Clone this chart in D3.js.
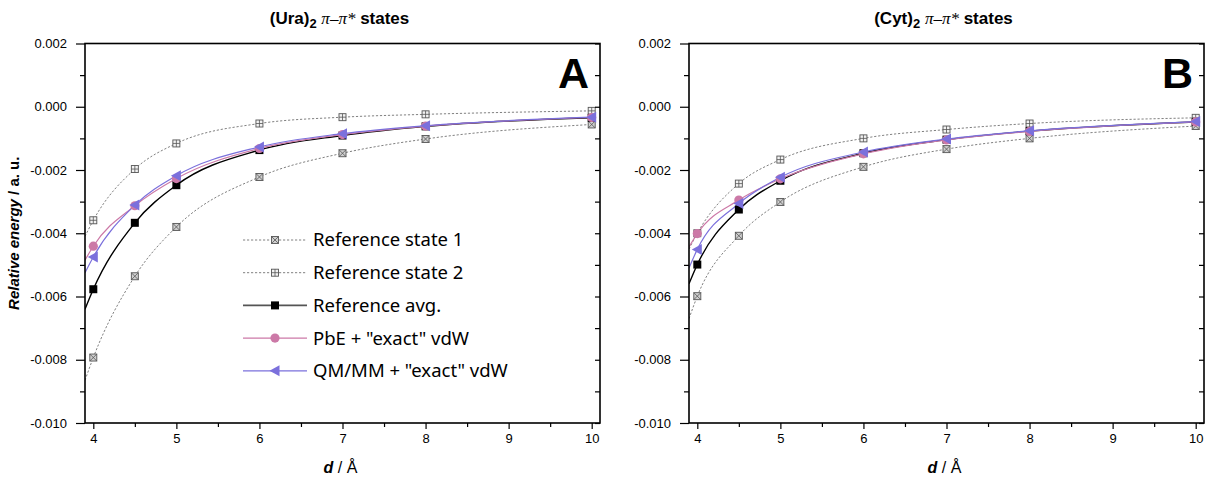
<!DOCTYPE html>
<html>
<head>
<meta charset="utf-8">
<script src="https://cdn.jsdelivr.net/npm/d3@7"></script>
<style>
  html, body { margin: 0; padding: 0; background: #fff; }
  svg { display: block; }
  .axis text { font-family: "Liberation Sans", Arial, sans-serif; font-size: 13px; fill: #000; }
  .axis path, .axis line { stroke: #000; }
</style>
</head>
<body>
<svg id="chart" width="1208" height="478"></svg>
<script>
// Intermolecular distance (Å) at which the energies were computed
const distances = [4, 4.5, 5, 6, 7, 8, 10];

// (Ura)2 pi-pi* relative energies (a.u.)
const uraRef1  = [-0.00793, -0.00536, -0.00380, -0.00222, -0.00147, -0.00102, -0.00056];
const uraRef2  = [-0.00359, -0.00197, -0.00116, -0.00053, -0.00033, -0.00024, -0.00013];
const uraAvg   = [-0.00577, -0.00367, -0.00248, -0.00137, -0.00091, -0.00062, -0.00035];
const uraPbE   = [-0.00441, -0.00313, -0.00227, -0.00132, -0.00088, -0.00061, -0.00034];
const uraQMMM  = [-0.00475, -0.00311, -0.00218, -0.00127, -0.00085, -0.00060, -0.00033];
// fitted-curve values where each curve meets the left frame (d = 3.9)
const uraEdge  = [-0.00865, -0.00410, -0.00640, -0.00485, -0.00525];

// (Cyt)2 pi-pi* relative energies (a.u.)
const cytRef1  = [-0.00599, -0.00408, -0.00301, -0.00190, -0.00134, -0.00100, -0.00061];
const cytRef2  = [-0.00400, -0.00243, -0.00167, -0.00100, -0.00072, -0.00053, -0.00035];
const cytAvg   = [-0.00499, -0.00325, -0.00234, -0.00147, -0.00104, -0.00077, -0.00048];
const cytPbE   = [-0.00401, -0.00295, -0.00228, -0.00149, -0.00105, -0.00078, -0.00048];
const cytQMMM  = [-0.00451, -0.00306, -0.00223, -0.00143, -0.00102, -0.00076, -0.00047];
const cytEdge  = [-0.00670, -0.00450, -0.00560, -0.00443, -0.00510];

const seriesNames = ["Reference state 1", "Reference state 2", "Reference avg.", "PbE + \"exact\" vdW", "QM/MM + \"exact\" vdW"];
const xTicks = [4, 5, 6, 7, 8, 9, 10];
const xMinorTicks = [4.5, 5.5, 6.5, 7.5, 8.5, 9.5];
const yTicks = [-0.010, -0.008, -0.006, -0.004, -0.002, 0.000, 0.002];
const yMinorTicks = [-0.009, -0.007, -0.005, -0.003, -0.001, 0.001];
const xDomain = [3.9, 10.1];
const yDomain = [-0.010, 0.002];

const styles = [
  { stroke: "#808080", width: 1, dash: "2.2,1.8", marker: "sqX" },
  { stroke: "#808080", width: 1, dash: "2.2,1.8", marker: "sqPlus" },
  { stroke: "#000000", width: 1.4, dash: null, marker: "square", fill: "#000" },
  { stroke: "#cc79a7", width: 1.2, dash: null, marker: "circle", fill: "#cc79a7" },
  { stroke: "#7b70dc", width: 1.2, dash: null, marker: "triangle", fill: "#7b70dc" }
];

const svg = d3.select("#chart");
const AXIS_FONT = "\"Liberation Sans\", Arial, sans-serif";

function drawMarker(g, type, x, y, st) {
  if (type === "sqX" || type === "sqPlus") {
    const s = 3.5;
    g.append("rect").attr("x", x - s).attr("y", y - s).attr("width", 2 * s).attr("height", 2 * s)
      .attr("fill", type === "sqX" ? "#d0d0d0" : "#f2f2f2").attr("stroke", "#555").attr("stroke-width", 0.9);
    if (type === "sqX") {
      g.append("path").attr("d", `M${x - s},${y - s}L${x + s},${y + s}M${x + s},${y - s}L${x - s},${y + s}`)
        .attr("stroke", "#555").attr("stroke-width", 0.8);
    } else {
      g.append("path").attr("d", `M${x - s},${y}L${x + s},${y}M${x},${y - s}L${x},${y + s}`)
        .attr("stroke", "#555").attr("stroke-width", 0.8);
    }
  } else if (type === "square") {
    const s = 4;
    g.append("rect").attr("x", x - s).attr("y", y - s).attr("width", 2 * s).attr("height", 2 * s).attr("fill", st.fill);
  } else if (type === "circle") {
    g.append("circle").attr("cx", x).attr("cy", y).attr("r", 4.6).attr("fill", st.fill);
  } else if (type === "triangle") {
    g.append("path").attr("d", `M${x - 5.5},${y}L${x + 4.5},${y - 5.5}L${x + 4.5},${y + 5.5}Z`).attr("fill", st.fill);
  }
}

function drawPanel(offsetX, sets, edges, titleMol, letter, withLegend, withYLabel) {
  const left = offsetX + 85, right = offsetX + 600, top = 43.5, bottom = 423;
  const x = d3.scaleLinear().domain(xDomain).range([left, right]);
  const y = d3.scaleLinear().domain(yDomain).range([bottom, top]);
  const g = svg.append("g");
  const fmt = d => d3.format(".3f")(d).replace("\u2212", "-");

  // clip region for curves
  const clipId = "clip-" + letter;
  svg.append("clipPath").attr("id", clipId).append("rect")
    .attr("x", left).attr("y", top).attr("width", right - left).attr("height", bottom - top);

  const line = d3.line().x(d => x(d[0])).y(d => y(d[1])).curve(d3.curveMonotoneX);
  const plot = g.append("g").attr("clip-path", `url(#${clipId})`);

  sets.forEach((vals, i) => {
    const st = styles[i];
    const pts = [[xDomain[0], edges[i]]].concat(distances.map((d, k) => [d, vals[k]]));
    plot.append("path").attr("d", line(pts)).attr("fill", "none")
      .attr("stroke", st.stroke).attr("stroke-width", st.width)
      .attr("stroke-dasharray", st.dash);
  });
  sets.forEach((vals, i) => {
    const mg = g.append("g");
    distances.forEach((d, k) => drawMarker(mg, styles[i].marker, x(d), y(vals[k]), styles[i]));
  });

  // axes
  const ax = g.append("g").attr("class", "axis");
  ax.append("g").attr("transform", `translate(0,${bottom})`)
    .call(d3.axisBottom(x).tickValues(xTicks).tickSize(6).tickPadding(5).tickFormat(d3.format("d")))
    .call(s => s.select(".domain").remove());
  ax.append("g").attr("transform", `translate(0,${bottom})`)
    .call(d3.axisBottom(x).tickValues(xMinorTicks).tickSize(4).tickFormat(""))
    .call(s => s.select(".domain").remove());
  ax.append("g").attr("transform", `translate(${left},0)`)
    .call(d3.axisLeft(y).tickValues(yTicks).tickSize(9).tickPadding(9).tickFormat(fmt))
    .call(s => s.select(".domain").remove());
  ax.append("g").attr("transform", `translate(${left},0)`)
    .call(d3.axisLeft(y).tickValues(yMinorTicks).tickSize(5).tickFormat(""))
    .call(s => s.select(".domain").remove());
  ax.append("g").attr("transform", `translate(${right},0)`)
    .call(d3.axisLeft(y).tickValues(yTicks.concat(yMinorTicks)).tickSize(5).tickFormat(""))
    .call(s => s.select(".domain").remove());
  ax.selectAll("line").attr("stroke-width", 1.2);

  g.append("rect").attr("x", left).attr("y", top).attr("width", right - left).attr("height", bottom - top)
    .attr("fill", "none").attr("stroke", "#000").attr("stroke-width", 1.6);

  // panel letter
  g.append("text").attr("x", right - 11).attr("y", 88).attr("text-anchor", "end")
    .attr("font-family", AXIS_FONT).attr("font-weight", "bold").attr("font-size", 43).text(letter);

  // title
  const t = g.append("text").attr("x", (left + right) / 2 - 3).attr("y", 24).attr("text-anchor", "middle")
    .attr("font-family", AXIS_FONT).attr("font-weight", "bold").attr("font-size", 17);
  t.append("tspan").text(`(${titleMol})`);
  t.append("tspan").attr("dy", 4).attr("font-size", 13).text("2");
  t.append("tspan").attr("dy", -4).text(" ");
  t.append("tspan").attr("font-family", "\"Liberation Serif\", serif").attr("font-style", "italic")
    .attr("font-weight", "normal").text("\u03c0\u2013\u03c0*");
  t.append("tspan").text(" states");

  // x label
  const xl = g.append("text").attr("x", (left + right) / 2 - 2).attr("y", 473).attr("text-anchor", "middle")
    .attr("font-family", AXIS_FONT).attr("font-size", 16);
  xl.append("tspan").attr("font-weight", "bold").attr("font-style", "italic").text("d");
  xl.append("tspan").text(" / \u00c5");

  if (withYLabel) {
    const yl = g.append("text").attr("transform", `translate(19,${(top + bottom) / 2}) rotate(-90)`)
      .attr("text-anchor", "middle").attr("font-family", AXIS_FONT).attr("font-size", 15).attr("font-weight", "bold");
    yl.append("tspan").attr("font-style", "italic").text("Relative energy");
    yl.append("tspan").text(" / a. u.");
  }

  if (withLegend) {
    const lg = g.append("g");
    seriesNames.forEach((name, i) => {
      const cy = 240 + i * 32.7;
      const st = styles[i];
      lg.append("line").attr("x1", 243).attr("x2", 307).attr("y1", cy).attr("y2", cy)
        .attr("stroke", i === 2 ? "#555" : st.stroke).attr("stroke-width", i === 2 ? 1.6 : st.width)
        .attr("stroke-dasharray", st.dash);
      drawMarker(lg, st.marker, 275, cy, st);
      lg.append("text").attr("x", 313).attr("y", cy).attr("dy", "0.35em")
        .attr("font-family", "\"Noto Sans\", \"Open Sans\", sans-serif").attr("font-size", 18.5).text(name);
    });
  }
}

drawPanel(0, [uraRef1, uraRef2, uraAvg, uraPbE, uraQMMM], uraEdge, "Ura", "A", true, true);
drawPanel(604, [cytRef1, cytRef2, cytAvg, cytPbE, cytQMMM], cytEdge, "Cyt", "B", false, false);
</script>
</body>
</html>
